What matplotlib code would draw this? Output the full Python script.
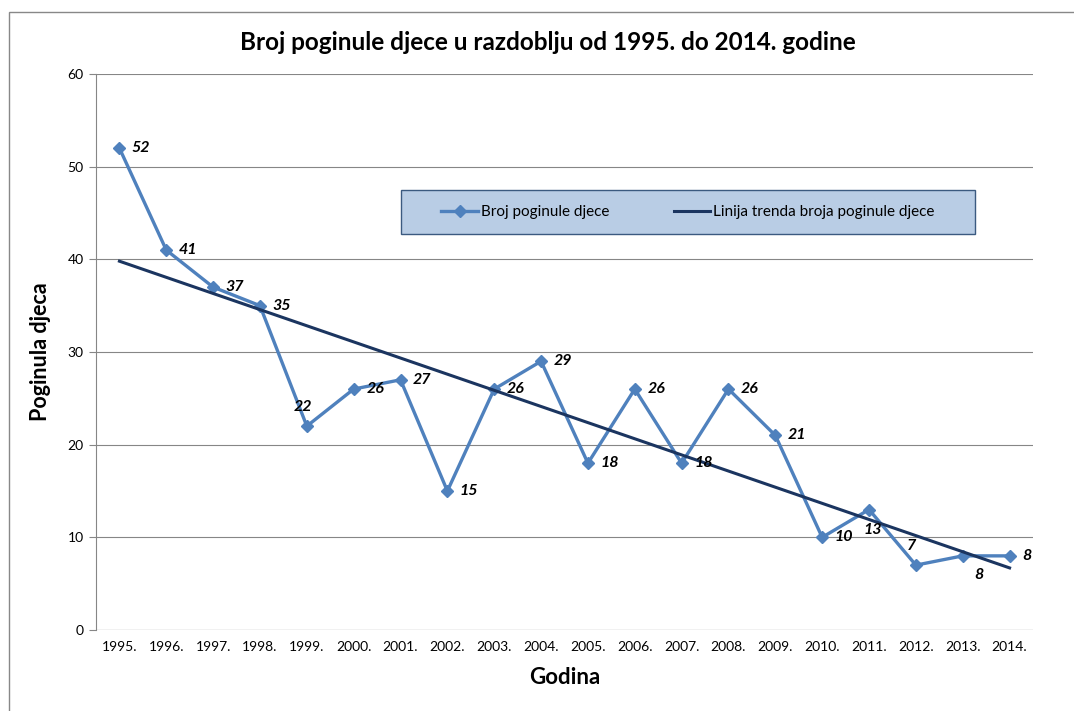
import matplotlib.pyplot as plt
from matplotlib.patches import Rectangle

years = ["1995.", "1996.", "1997.", "1998.", "1999.", "2000.", "2001.", "2002.", "2003.", "2004.",
         "2005.", "2006.", "2007.", "2008.", "2009.", "2010.", "2011.", "2012.", "2013.", "2014."]
deaths = [52, 41, 37, 35, 22, 26, 27, 15, 26, 29, 18, 26, 18, 26, 21, 10, 13, 7, 8, 8]
# trend line end values
trend_ends = [39.8, 6.7]

# where each data label sits relative to its point
label_pos = ["right"] * 20
label_pos[4] = "above"
label_pos[16] = "below"
label_pos[17] = "above"
label_pos[18] = "belowright"

OFFSETS = {
    "right": ((9, 0), "left", "center"),
    "above": ((-3, 9), "center", "bottom"),
    "below": ((3, -10), "center", "top"),
    "belowright": ((8, -9), "left", "top"),
}

plt.rcParams["font.family"] = ["Lato", "DejaVu Sans"]

fig = plt.figure(figsize=(10.74, 7.11), dpi=100)
ax = fig.add_axes([96 / 1074, 1 - 630 / 711, (1033 - 96) / 1074, (630 - 74) / 711])

x = list(range(len(years)))
ax.plot(x, deaths, color="#4f81bd", linewidth=2.4, marker="D", markersize=6.5,
        label="Broj poginule djece", zorder=3)
ax.plot([x[0], x[-1]], trend_ends, color="#1b3560", linewidth=2.2,
        label="Linija trenda broja poginule djece", zorder=4)

for xi, v, pos in zip(x, deaths, label_pos):
    off, ha, va = OFFSETS[pos]
    ax.annotate(str(v), (xi, v), xytext=off, textcoords="offset points", ha=ha, va=va,
                fontsize=11.5, fontweight="bold", fontstyle="italic", color="#000000", zorder=5)

ax.set_xlim(-0.5, len(years) - 0.5)
ax.set_ylim(0, 60)
ax.set_yticks(range(0, 61, 10))
ax.set_xticks(x)
ax.set_xticklabels(years)
ax.tick_params(axis="x", length=0, labelsize=10, pad=8, colors="#000000")
ax.tick_params(axis="y", length=5, width=0.8, color="#868686", labelsize=10, pad=4)
ax.yaxis.grid(True, color="#868686", linewidth=0.8)
ax.set_axisbelow(True)
for side in ("top", "right", "bottom"):
    ax.spines[side].set_visible(False)
ax.spines["left"].set_color("#868686")
ax.spines["left"].set_linewidth(0.8)
ax.axhline(0, color="#868686", linewidth=0.8, zorder=1)

ax.set_xlabel("Godina", fontsize=16, fontweight="bold", labelpad=10)
ax.set_ylabel("Poginula djeca", fontsize=15.5, fontweight="bold", labelpad=12)
fig.text(548 / 1074, 1 - 42 / 711, "Broj poginule djece u razdoblju od 1995. do 2014. godine",
         ha="center", va="center", fontsize=17.5, fontweight="bold")

# legend box drawn separately so its size matches the original
box_x0, box_x1, box_y0, box_y1 = 401 / 1074, 975 / 1074, 1 - 234 / 711, 1 - 190 / 711
fig.patches.append(Rectangle((box_x0, box_y0), box_x1 - box_x0, box_y1 - box_y0,
                             transform=fig.transFigure, facecolor="#b9cde5",
                             edgecolor="#3b5a80", linewidth=1.0, zorder=2))
leg = fig.legend(loc="center", bbox_to_anchor=((box_x0 + box_x1) / 2, (box_y0 + box_y1) / 2),
                 ncol=2, frameon=False, fontsize=11, handlelength=2.4, handletextpad=0.2,
                 columnspacing=4.2)
leg.set_zorder(3)

fig.patches.append(Rectangle((9 / 1074, -0.1), 1.2, 1 - 12 / 711 + 0.1, transform=fig.transFigure,
                             fill=False, edgecolor="#888888", linewidth=1.0))

fig.savefig("out.png", dpi=100)
